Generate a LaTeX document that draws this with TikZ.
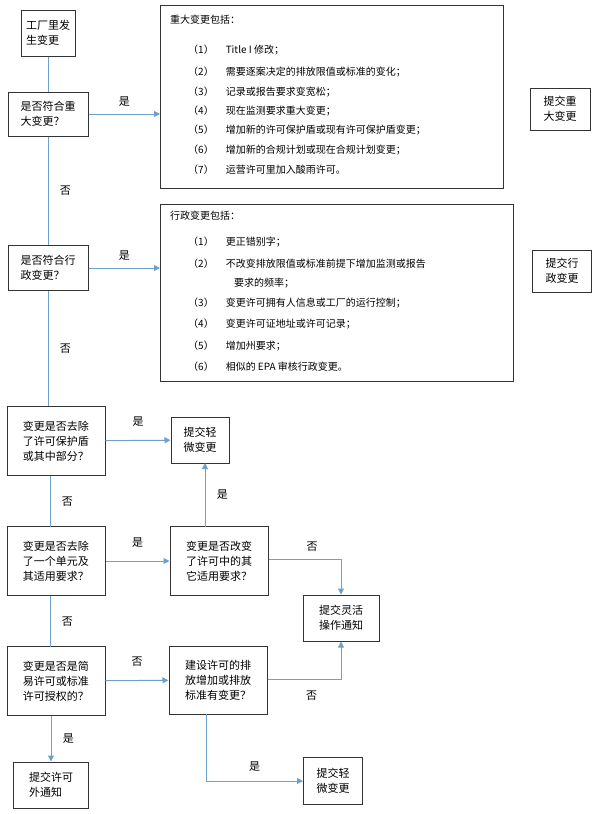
\documentclass[tikz,border=0pt]{standalone}
\usepackage{fontspec}
\setmainfont{Noto Sans CJK SC}
\usetikzlibrary{arrows.meta}
\definecolor{flowblue}{RGB}{110,160,205}
\tikzset{
  box/.style={draw=black!80, line width=1pt, align=left, inner sep=3pt, font=\fontsize{11}{15}\selectfont},
  flow/.style={draw=flowblue, line width=1pt},
  arr/.style={flow, -{Triangle[length=6pt,width=6pt]}},
  lbl/.style={font=\fontsize{11}{13}\selectfont},
  item/.style={anchor=west, font=\fontsize{10}{12}\selectfont, inner sep=0pt}
}
\begin{document}
\begin{tikzpicture}[x=1pt,y=-1pt]
\useasboundingbox (0,0) rectangle (600,814);
% left column
\node[box, minimum width=54pt, minimum height=46pt] (start) at (48,33) {工厂里发\\生变更};
\node[box, minimum width=80pt, minimum height=44pt] (q1) at (48,114) {是否符合重\\大变更？};
\node[box, minimum width=80pt, minimum height=45pt] (q2) at (48,268) {是否符合行\\政变更？};
\node[box, minimum width=98pt, minimum height=69pt] (q3) at (56,441) {变更是否去除\\了许可保护盾\\或其中部分？};
\node[box, minimum width=98pt, minimum height=69pt] (q4) at (56,561) {变更是否去除\\了一个单元及\\其适用要求？};
\node[box, minimum width=98pt, minimum height=69pt] (q5) at (56,681) {变更是否是简\\易许可或标准\\许可授权的？};
\node[box, minimum width=75pt, minimum height=46pt] (out1) at (51,785) {提交许可\\外通知};
% middle column
\node[box, minimum width=58pt, minimum height=46pt] (minor1) at (200,440) {提交轻\\微变更};
\node[box, minimum width=98pt, minimum height=69pt] (q6) at (219,561) {变更是否改变\\了许可中的其\\它适用要求？};
\node[box, minimum width=98pt, minimum height=68pt] (q7) at (218,680) {建设许可的排\\放增加或排放\\标准有变更？};
\node[box, minimum width=76pt, minimum height=46pt] (flex) at (341,618) {提交灵活\\操作通知};
\node[box, minimum width=59pt, minimum height=47pt] (minor2) at (333,781) {提交轻\\微变更};
% big boxes
\draw[black!80, line width=1pt] (160,5) rectangle (503,188);
\node[item] (t1) at (170,20) {重大变更包括：};
\foreach \y/\n/\t in {50/1/Title I 修改；, 72/2/需要逐案决定的排放限值或标准的变化；, 92/3/记录或报告要求变宽松；, 111/4/现在监测要求重大变更；, 130/5/增加新的许可保护盾或现有许可保护盾变更；, 150/6/增加新的合规计划或现在合规计划变更；, 170/7/运营许可里加入酸雨许可。}
  \node[item] at (188,\y) {（\n）\hspace{12pt}\t};
\draw[black!80, line width=1pt] (160,204) rectangle (513,381);
\node[item] (t2) at (170,216) {行政变更包括：};
\foreach \y/\n/\t in {242/1/更正错别字；, 264/2/不改变排放限值或标准前提下增加监测或报告, 303/3/变更许可拥有人信息或工厂的运行控制；, 324/4/变更许可证地址或许可记录；, 346/5/增加州要求；, 367/6/相似的 EPA 审核行政变更。}
  \node[item] at (188,\y) {（\n）\hspace{12pt}\t};
\node[item] at (234,283) {要求的频率；};
\node[box, minimum width=60pt, minimum height=42pt] (major) at (560,109) {提交重\\大变更};
\node[box, minimum width=59pt, minimum height=42pt] (admin) at (562,271) {提交行\\政变更};
\coordinate (b1) at (160,114);
\coordinate (b2) at (160,268);
% connectors
\draw[flow] (start) -- (q1);
\draw[arr] (q1) -- (b1) node[lbl, midway, above=4pt] {是};
\draw[flow] (q1) -- (q2) node[lbl, midway, right=8pt] {否};
\draw[arr] (q2) -- (b2) node[lbl, midway, above=4pt] {是};
\draw[flow] (q2.south) -- (q2.south |- q3.north) node[lbl, midway, right=8pt] {否};
\draw[arr] (q3) -- (minor1) node[lbl, midway, above=10pt] {是};
\draw[flow] (50,476) -- (50,527) node[lbl, midway, right=8pt] {否};
\draw[arr] (q4) -- (q6) node[lbl, midway, above=10pt] {是};
\draw[flow] (50,596) -- (50,647) node[lbl, midway, right=8pt] {否};
\draw[arr] (q5) -- (q7) node[lbl, midway, above=10pt] {否};
\draw[arr] (51,716) -- (out1) node[lbl, midway, right=8pt] {是};
\draw[arr] (205,527) -- (205,463) node[lbl, midway, right=8pt] {是};
\draw[arr] (q6.east |- 0,559) -| (flex.north) node[lbl, pos=0.3, above=4pt] {否};
\draw[arr] (q7.east |- 0,679) -| (flex.south) node[lbl, pos=0.3, below=8pt] {否};
\draw[arr] (206,714) |- (minor2) node[lbl, pos=0.75, above=6pt] {是};
\end{tikzpicture}
\end{document}
